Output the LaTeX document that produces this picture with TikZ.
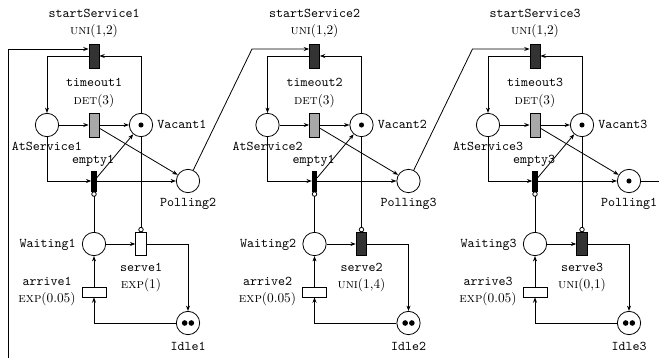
\documentclass[tikz,border=0pt]{standalone}
\usetikzlibrary{arrows.meta,calc}
\definecolor{darktr}{HTML}{333333}
\definecolor{midtr}{HTML}{A8A8A8}
\begin{document}
\begin{tikzpicture}[x=0.75pt,y=-0.75pt,
  line width=0.6pt,
  place/.style={circle,draw,minimum size=17.5pt,inner sep=0pt},
  trbox/.style={rectangle,draw,inner sep=0pt,minimum width=7.5pt,minimum height=18pt},
  thinbar/.style={rectangle,draw,fill=black,inner sep=0pt,minimum width=3.5pt,minimum height=15pt},
  hbar/.style={rectangle,draw,fill=white,inner sep=0pt,minimum width=18pt,minimum height=7.5pt},
  arc/.style={-{Stealth[length=4pt,width=3pt]}},
  inhib/.style={-{Circle[open,length=4pt,width=4pt]}},
  lbl/.style={font=\ttfamily,inner sep=0pt,text height=1.6ex,text depth=0.3ex},
  dlbl/.style={inner sep=0pt,text height=1.6ex,text depth=0.3ex},
]
\useasboundingbox (0,0) rectangle (659,357);
\clip (0,0) rectangle (659,357);

% one polling station per panel
\foreach \i/\ox/\pn/\en/\sfil/\sdis in {
    1/0/2/1/white/{\textsc{exp}(1)},
    2/220.5/3/1/darktr/{\textsc{uni}(1,4)},
    3/441/1/3/darktr/{\textsc{uni}(0,1)}}{
  \begin{scope}[shift={(\ox,0)}]
    % places
    \node[place] (at\i)  at (47,125)  {};
    \node[place] (vac\i) at (141,125) {};
    \node[place] (pol\i) at (188,181) {};
    \node[place] (wt\i)  at (94,244)  {};
    \node[place] (id\i)  at (188,323) {};
    % transitions
    \node[trbox,fill=darktr] (ss\i) at (94,56)  {};
    \node[trbox,fill=midtr]  (to\i) at (94,125) {};
    \node[thinbar]           (em\i) at (94,181) {};
    \node[trbox,minimum width=8pt,minimum height=17pt,fill=\sfil] (sv\i) at (141,244) {};
    \node[hbar]              (ar\i) at (94,292) {};
    % tokens
    \fill (vac\i.center) circle (1.9pt);
    \fill ([xshift=-2.5pt]id\i.center) circle (2.1pt);
    \fill ([xshift=2.5pt]id\i.center) circle (2.1pt);
    \ifnum\i=3 \fill (pol\i.center) circle (1.9pt); \fi
    % labels
    \node[lbl]  (lss\i)  at (94,14)  {startService\i};
    \node[dlbl] (dss\i)  at (94,31)  {\textsc{uni}(1,2)};
    \node[lbl]  (lto\i)  at (94,83)  {timeout\i};
    \node[dlbl] (dto\i)  at (94,101) {\textsc{det}(3)};
    \node[lbl,anchor=west] (lvac\i) at (157,125) {Vacant\i};
    \node[lbl]  (lat\i)  at (47,147) {AtService\i};
    \node[lbl]  (lem\i)  at (93,160) {empty\en};
    \node[lbl]  (lpol\i) at (188,203) {Polling\pn};
    \node[lbl,anchor=east] (lwt\i) at (76,244) {Waiting\i};
    \node[lbl]  (lsv\i)  at (141,268) {serve\i};
    \node[dlbl] (dsv\i)  at (141,285) {\sdis};
    \node[lbl]  (lar\i)  at (47,282) {arrive\i};
    \node[dlbl] (dar\i)  at (47,299) {\textsc{exp}(0.05)};
    \node[lbl]  (lid\i)  at (188,347) {Idle\i};
    % bend towards the next station
    \coordinate (bend\i) at (252,49);
    % arcs
    \draw[arc] (ss\i.west) -| (at\i);
    \draw[arc] (vac\i) |- (ss\i.east);
    \draw[arc] (at\i) -- (to\i);
    \draw[arc] (to\i) -- (vac\i);
    \draw[arc] (to\i) -- (pol\i);
    \draw[arc] (at\i) |- (em\i);
    \draw[arc] (em\i) -- (pol\i);
    \draw[arc] (em\i) -- (vac\i);
    \draw[inhib] (wt\i) -- (em\i);
    \draw[inhib] (vac\i) -- (sv\i);
    \draw[arc] (wt\i) -- (sv\i);
    \draw[arc] (sv\i) -| (id\i);
    \draw[arc] (id\i) -| (ar\i);
    \draw[arc] (ar\i) -- (wt\i);
  \end{scope}
}

% the server moves on from one station to the next
\draw[arc] (pol1) -- (bend1) -- (bend1 -| ss2.west);
\draw[arc] (pol2) -- (bend2) -- (bend2 -| ss3.west);
\coordinate (wrapR) at (672,181);
\coordinate (wrapL) at (8.5,372);
\coordinate (wrapT) at (8.5,49);
\draw (pol3) -- (wrapR);
\draw[arc] (wrapL) -- (wrapT) -- (wrapT -| ss1.west);
\end{tikzpicture}
\end{document}
